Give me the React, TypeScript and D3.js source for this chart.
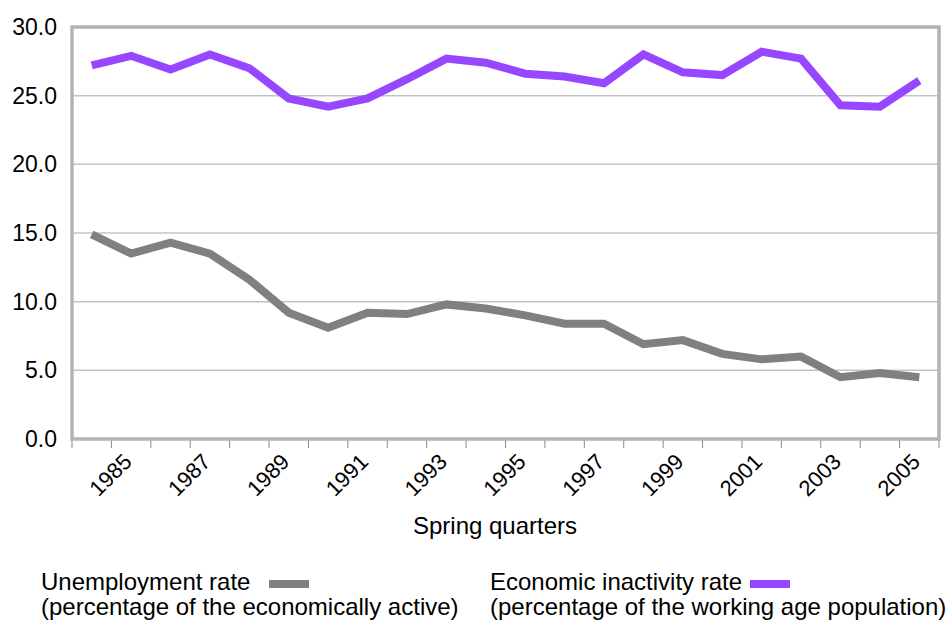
import React, { useRef, useEffect } from "react";
import * as d3 from "d3";

const years: number[] = [
  1984, 1985, 1986, 1987, 1988, 1989, 1990, 1991, 1992, 1993, 1994, 1995,
  1996, 1997, 1998, 1999, 2000, 2001, 2002, 2003, 2004, 2005,
];

const unemployment: number[] = [
  14.9, 13.5, 14.3, 13.5, 11.6, 9.2, 8.1, 9.2, 9.1, 9.8, 9.5, 9.0, 8.4, 8.4,
  6.9, 7.2, 6.2, 5.8, 6.0, 4.5, 4.8, 4.5,
];

const inactivity: number[] = [
  27.2, 27.9, 26.9, 28.0, 27.0, 24.8, 24.2, 24.8, 26.2, 27.7, 27.4, 26.6,
  26.4, 25.9, 28.0, 26.7, 26.5, 28.2, 27.7, 24.3, 24.2, 26.1,
];

const yTicks: number[] = [0, 5, 10, 15, 20, 25, 30];

const GRAY = "#808080";
const PURPLE = "#9747ff";
const FONT = "'Liberation Sans', Arial, Helvetica, sans-serif";

const App: React.FC = () => {
  const ref = useRef<SVGSVGElement>(null);
  const width = 947;
  const height = 625;
  const margin = { top: 27, right: 8, bottom: 186, left: 72 };
  const innerWidth = width - margin.left - margin.right;
  const innerHeight = height - margin.top - margin.bottom;

  useEffect(() => {
    const svg = d3.select(ref.current);
    svg.selectAll("*").remove();

    const g = svg
      .append("g")
      .attr("transform", `translate(${margin.left}, ${margin.top})`);

    const xScale = d3
      .scaleBand<number>()
      .domain(years)
      .range([0, innerWidth]);
    const yScale = d3.scaleLinear().domain([0, 30]).range([innerHeight, 0]);

    // gridlines
    g.selectAll(".grid")
      .data(yTicks.filter((t) => t > 0 && t < 30))
      .enter()
      .append("line")
      .attr("x1", 0)
      .attr("x2", innerWidth)
      .attr("y1", (d) => yScale(d))
      .attr("y2", (d) => yScale(d))
      .attr("stroke", "#c4c4c4")
      .attr("stroke-width", 1.5);

    // y axis labels
    const yAxis = d3
      .axisLeft(yScale)
      .tickValues(yTicks)
      .tickFormat((d) => d3.format(".1f")(d as number))
      .tickSize(0)
      .tickPadding(15);
    const yAxisGroup = g.append("g").call(yAxis);
    yAxisGroup.select(".domain").remove();
    yAxisGroup
      .selectAll("text")
      .attr("font-size", 23)
      .attr("font-family", FONT)
      .attr("fill", "#000");

    // x axis ticks at band edges
    const xAxisGroup = g
      .append("g")
      .attr("transform", `translate(0, ${innerHeight})`);
    const edges = years.map((y) => xScale(y) || 0).concat([innerWidth]);
    xAxisGroup
      .selectAll(".tk")
      .data(edges)
      .enter()
      .append("line")
      .attr("x1", (d) => d)
      .attr("x2", (d) => d)
      .attr("y1", 0)
      .attr("y2", 9)
      .attr("stroke", "#888")
      .attr("stroke-width", 1);

    xAxisGroup
      .selectAll(".lbl")
      .data(years.filter((y) => y % 2 === 1))
      .enter()
      .append("text")
      .attr("text-anchor", "end")
      .attr("font-size", 22)
      .attr("font-family", FONT)
      .attr(
        "transform",
        (d) =>
          `translate(${(xScale(d) || 0) + xScale.bandwidth() / 2 + 2}, ${24}) rotate(-45)`
      )
      .text((d) => String(d));

    // frame
    g.append("rect")
      .attr("x", 0)
      .attr("y", 0)
      .attr("width", innerWidth)
      .attr("height", innerHeight)
      .attr("fill", "none")
      .attr("stroke", "#b3b3b3")
      .attr("stroke-width", 3.5);

    // lines
    const line = d3
      .line<number>()
      .x((_, i) => (xScale(years[i]) || 0) + xScale.bandwidth() / 2)
      .y((d) => yScale(d));

    g.append("path")
      .attr("d", line(unemployment) || "")
      .attr("fill", "none")
      .attr("stroke", GRAY)
      .attr("stroke-width", 8);

    g.append("path")
      .attr("d", line(inactivity) || "")
      .attr("fill", "none")
      .attr("stroke", PURPLE)
      .attr("stroke-width", 8);

    // axis title
    svg
      .append("text")
      .attr("x", 495)
      .attr("y", 534)
      .attr("text-anchor", "middle")
      .attr("font-size", 24)
      .attr("font-family", FONT)
      .text("Spring quarters");

    // legend
    const legend = [
      {
        x: 41,
        name: "Unemployment rate",
        sub: "(percentage of the economically active)",
        color: GRAY,
        swatchX: 269,
      },
      {
        x: 490,
        name: "Economic inactivity rate",
        sub: "(percentage of the working age population)",
        color: PURPLE,
        swatchX: 750,
      },
    ];
    legend.forEach((l) => {
      svg
        .append("text")
        .attr("x", l.x)
        .attr("y", 590)
        .attr("font-size", 24)
        .attr("font-family", FONT)
        .text(l.name);
      svg
        .append("rect")
        .attr("x", l.swatchX)
        .attr("y", 580)
        .attr("width", 40)
        .attr("height", 8)
        .attr("fill", l.color);
      svg
        .append("text")
        .attr("x", l.x)
        .attr("y", 615)
        .attr("font-size", 24)
        .attr("font-family", FONT)
        .text(l.sub);
    });
  });

  return (
    <svg
      ref={ref}
      width={width}
      height={height}
      style={{ position: "absolute", left: 0, top: 0, background: "#fff" }}
    ></svg>
  );
};

export default App;
